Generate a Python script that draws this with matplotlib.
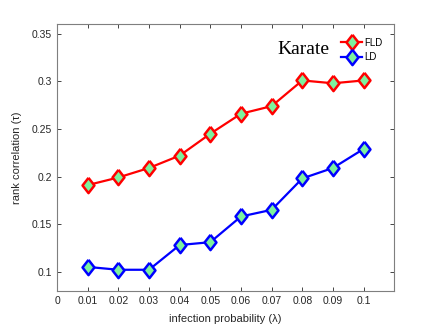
import numpy as np
import matplotlib
matplotlib.use('Agg')
from matplotlib import pyplot as plt

x = [0.01, 0.02, 0.03, 0.04, 0.05, 0.06, 0.07, 0.08, 0.09, 0.1]
fld = [0.191, 0.199, 0.209, 0.222, 0.245, 0.266, 0.274, 0.301, 0.298, 0.301]
ld = [0.105, 0.102, 0.102, 0.128, 0.131, 0.158, 0.165, 0.198, 0.209, 0.229]
xticks = [0, 0.01, 0.02, 0.03, 0.04, 0.05, 0.06, 0.07, 0.08, 0.09, 0.1]
xticklabels = ['0', '0.01', '0.02', '0.03', '0.04', '0.05', '0.06', '0.07', '0.08', '0.09', '0.1']
yticks = [0.1, 0.15, 0.2, 0.25, 0.3, 0.35]
yticklabels = ['0.1', '0.15', '0.2', '0.25', '0.3', '0.35']

plt.rcParams['font.family'] = ['Liberation Sans', 'DejaVu Sans']
green = '#7DF29E'
diamond = [(0, 1), (0.78, 0), (0, -1), (-0.78, 0), (0, 1)]

fig = plt.figure(figsize=(4.36, 3.27), dpi=100)
ax = fig.add_axes([57 / 436, 1 - 290.7 / 327, (394.3 - 57) / 436, (290.7 - 24.3) / 327])

ax.plot(x, fld, color='red', lw=1.6, marker=diamond, ms=11, mfc=green, mec='red', mew=1.8, label='FLD')
ax.plot(x, ld, color='blue', lw=1.6, marker=diamond, ms=11, mfc=green, mec='blue', mew=1.8, label='LD')

ax.set_xlim(0, 0.11)
ax.set_ylim(0.08, 0.36)
ax.set_xticks(xticks)
ax.set_xticklabels(xticklabels)
ax.set_yticks(yticks)
ax.set_yticklabels(yticklabels)
ax.tick_params(direction='in', top=True, right=True, labelsize=7.5, colors='#262626', length=3, width=0.6)
for s in ax.spines.values():
    s.set_color('#7f7f7f')
    s.set_linewidth(0.8)
ax.set_xlabel('infection probability (λ)', fontsize=8, color='#262626', labelpad=6)
ax.set_ylabel('rank correlation (τ)', fontsize=8, color='#262626', labelpad=7)

ax.text(0.0888, 0.334, 'Karate', family='Liberation Serif', fontsize=14, ha='right', va='center')
leg = ax.legend(loc='upper right', bbox_to_anchor=(0.965, 0.95), frameon=False, fontsize=7,
                handlelength=2.2, handletextpad=0.2, labelspacing=0.45, borderaxespad=0.0,
                borderpad=0.0)

fig.savefig('out.png', dpi=100)
